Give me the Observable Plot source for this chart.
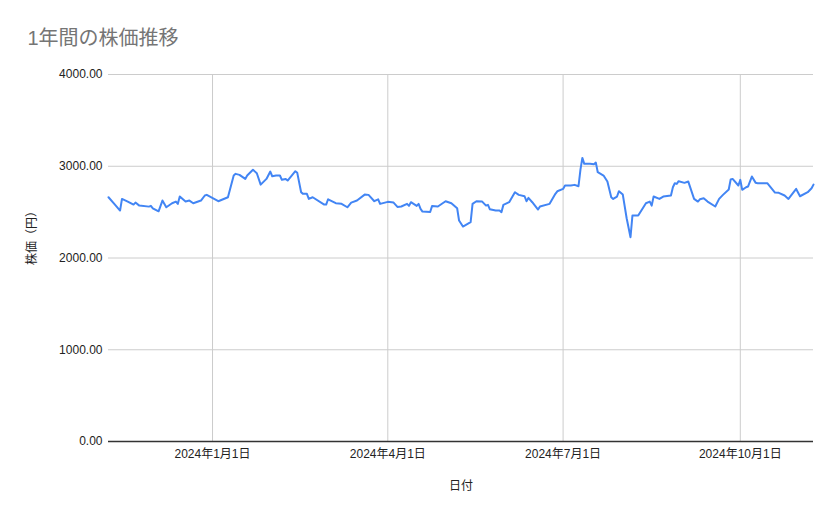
<!DOCTYPE html>
<html>
<head>
<meta charset="utf-8">
<script src="https://cdn.jsdelivr.net/npm/d3@7"></script>
<script src="https://cdn.jsdelivr.net/npm/@observablehq/plot@0.6"></script>
<style>
  html, body { margin: 0; padding: 0; background: #ffffff; }
  #chart svg { display: block; }
</style>
</head>
<body>
<div id="chart"></div>
<script>
const chartTitle = "1年間の株価推移";
const xTitle = "日付";
const yTitle = "株価（円）";

const dates = [
  "2023-11-08","2023-11-11","2023-11-14","2023-11-15","2023-11-18","2023-11-21","2023-11-22","2023-11-24",
  "2023-11-29","2023-11-30","2023-12-01","2023-12-04","2023-12-06","2023-12-08","2023-12-11","2023-12-13",
  "2023-12-14","2023-12-15","2023-12-18","2023-12-20","2023-12-22","2023-12-26","2023-12-28","2023-12-29",
  "2024-01-04","2024-01-09","2024-01-12","2024-01-13","2024-01-15","2024-01-18","2024-01-19","2024-01-22",
  "2024-01-24","2024-01-26","2024-01-29","2024-01-31","2024-02-01","2024-02-03","2024-02-05","2024-02-06",
  "2024-02-08","2024-02-09","2024-02-13","2024-02-14","2024-02-16","2024-02-17","2024-02-19","2024-02-20",
  "2024-02-22","2024-02-28","2024-02-29","2024-03-01","2024-03-05","2024-03-08","2024-03-11","2024-03-13",
  "2024-03-16","2024-03-20","2024-03-22","2024-03-25","2024-03-27","2024-03-28","2024-04-01","2024-04-04",
  "2024-04-06","2024-04-08","2024-04-11","2024-04-12","2024-04-13","2024-04-16","2024-04-17","2024-04-18",
  "2024-04-19","2024-04-23","2024-04-24","2024-04-27","2024-05-01","2024-05-04","2024-05-07","2024-05-08",
  "2024-05-10","2024-05-14","2024-05-15","2024-05-17","2024-05-20","2024-05-22","2024-05-23","2024-05-24",
  "2024-05-27","2024-05-29","2024-05-30","2024-05-31","2024-06-03","2024-06-06","2024-06-08","2024-06-11",
  "2024-06-12","2024-06-13","2024-06-15","2024-06-18","2024-06-19","2024-06-24","2024-06-27","2024-06-28",
  "2024-07-01","2024-07-02","2024-07-05","2024-07-07","2024-07-09","2024-07-10","2024-07-11","2024-07-12",
  "2024-07-15","2024-07-17","2024-07-18","2024-07-19","2024-07-22","2024-07-24","2024-07-26","2024-07-27",
  "2024-07-29","2024-07-30","2024-08-01","2024-08-03","2024-08-05","2024-08-06","2024-08-09","2024-08-13",
  "2024-08-15","2024-08-16","2024-08-17","2024-08-20","2024-08-22","2024-08-26","2024-08-27","2024-08-28",
  "2024-08-29","2024-08-30","2024-09-02","2024-09-04","2024-09-07","2024-09-09","2024-09-10","2024-09-12",
  "2024-09-14","2024-09-18","2024-09-20","2024-09-22","2024-09-25","2024-09-26","2024-09-27","2024-09-30",
  "2024-10-01","2024-10-02","2024-10-04","2024-10-05","2024-10-07","2024-10-09","2024-10-10","2024-10-15",
  "2024-10-19","2024-10-21","2024-10-24","2024-10-25","2024-10-26","2024-10-30","2024-11-01","2024-11-05",
  "2024-11-07","2024-11-08"
];

const prices = [
  2662,2590,2517,2644,2615,2582,2604,2571,
  2560,2568,2542,2509,2626,2553,2597,2615,
  2590,2670,2615,2626,2597,2626,2681,2688,
  2619,2662,2899,2917,2906,2862,2899,2961,
  2924,2800,2862,2942,2891,2899,2899,2852,
  2862,2844,2946,2928,2717,2699,2699,2644,
  2662,2582,2582,2640,2597,2590,2553,2604,
  2626,2691,2688,2619,2640,2590,2612,2604,
  2557,2561,2590,2568,2608,2568,2590,2535,
  2506,2502,2568,2561,2619,2597,2542,2408,
  2343,2390,2590,2619,2615,2571,2579,2531,
  2517,2517,2499,2579,2608,2717,2688,2673,
  2619,2655,2608,2528,2561,2590,2699,2727,
  2753,2790,2790,2797,2782,2961,3091,3026,
  3026,3022,3040,2935,2899,2833,2662,2644,
  2670,2728,2691,2433,2226,2463,2463,2597,
  2615,2571,2670,2644,2670,2681,2771,2815,
  2808,2837,2819,2833,2644,2615,2640,2651,
  2615,2561,2644,2688,2746,2855,2862,2790,
  2852,2743,2771,2779,2888,2819,2815,2815,
  2713,2710,2681,2662,2644,2753,2673,2717,
  2760,2800
];

const xTickDates = ["2024-01-01","2024-04-01","2024-07-01","2024-10-01"];
const yTicks = [0, 1000, 2000, 3000, 4000];

const parse = d3.utcParse("%Y-%m-%d");
const data = dates.map((d, i) => ({date: parse(d), price: prices[i]}));
const xTicks = xTickDates.map(parse);
const fmtDate = d => `${d.getUTCFullYear()}年${d.getUTCMonth() + 1}月${d.getUTCDate()}日`;
const fmtY = d3.format(".2f");

const font = "Arial, 'Liberation Sans', 'Noto Sans CJK JP', sans-serif";

const chart = Plot.plot({
  width: 839,
  height: 519,
  marginLeft: 108,
  marginRight: 26,
  marginTop: 74,
  marginBottom: 78,
  style: {fontFamily: font, fontSize: "12px", color: "#222222", background: "#ffffff"},
  x: {type: "utc", domain: d3.extent(data, d => d.date)},
  y: {domain: [0, 4000]},
  marks: [
    Plot.gridY(yTicks.filter(d => d > 0), {stroke: "#cccccc", strokeOpacity: 1, strokeWidth: 1}),
    Plot.gridX(xTicks, {stroke: "#cccccc", strokeOpacity: 1, strokeWidth: 1}),
    Plot.axisY(yTicks, {tickFormat: fmtY, tickSize: 0, tickPadding: 6, label: null, fontSize: 12}),
    Plot.axisX(xTicks, {tickFormat: fmtDate, tickSize: 0, tickPadding: 8, label: null, fontSize: 12}),
    Plot.ruleY([0], {stroke: "#333333", strokeWidth: 1.3}),
    Plot.lineY(data, {x: "date", y: "price", stroke: "#4285f4", strokeWidth: 2, curve: "linear"}),
    Plot.text([chartTitle], {frameAnchor: "top-left", dx: -81, dy: -36, textAnchor: "start", lineAnchor: "middle",
      fontSize: 20, fill: "#757575", fontFamily: font}),
    Plot.text([xTitle], {frameAnchor: "bottom", dy: 45, lineAnchor: "middle", fontSize: 12, fill: "#222222"}),
    Plot.text([yTitle], {frameAnchor: "left", dx: -76, dy: 7, rotate: -90, lineAnchor: "middle", fontSize: 12, fill: "#222222"})
  ]
});

document.getElementById("chart").appendChild(chart);
</script>
</body>
</html>
